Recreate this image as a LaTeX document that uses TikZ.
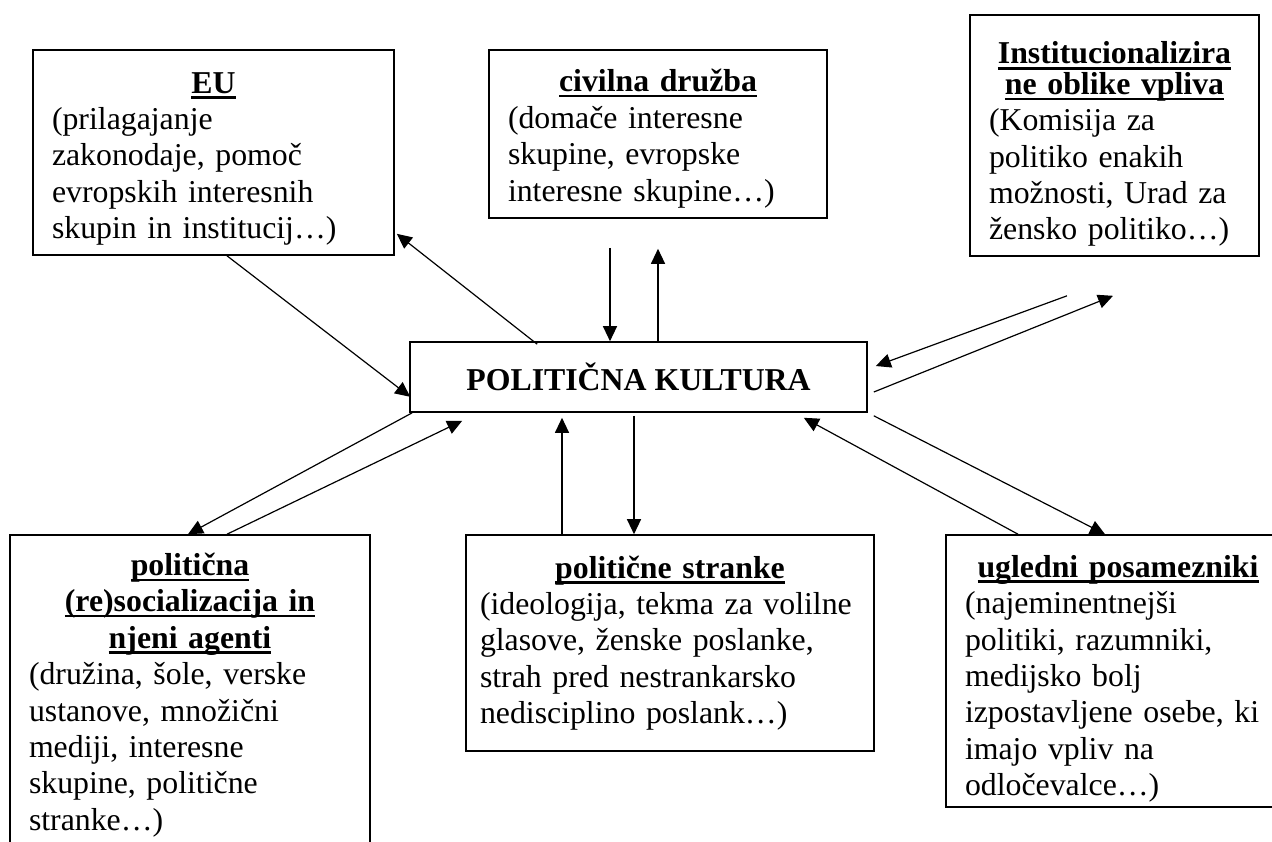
\documentclass[tikz,border=0pt]{standalone}
\usepackage{fontspec}
\setmainfont{Liberation Serif}
\usetikzlibrary{arrows.meta}

\hyphenpenalty=10000
\newlength{\ulwd}
\newcommand{\ulined}[1]{\leavevmode\settowidth{\ulwd}{#1}\rlap{\rule[-2.8pt]{\ulwd}{1.2pt}}#1}
\newcommand{\boxtitle}[2][0pt]{{\centering\bfseries\rule{0pt}{\dimexpr10.8pt+#1\relax}#2\par}}

\begin{document}
\begin{tikzpicture}[x=0.5pt, y=-0.5pt, line width=0.6pt,
  font=\fontsize{15.9pt}{18.2pt}\selectfont,
  box/.style={draw, rectangle, line width=0.8pt, inner xsep=9.5pt, inner ysep=1pt, align=left},
  arr/.style={-{Triangle[length=7.5pt,width=7pt]}}]
  \useasboundingbox (0,0) rectangle (1272,841);
  \clip (0,0) rectangle (1272,841);

  % upper row
  \node[box, minimum width=180.5pt, minimum height=102.5pt, text width=161.5pt] (eu) at (213.5,152.5)
  {\boxtitle[6pt]{\ulined{EU}}
   (prilagajanje\\
   zakonodaje, pomoč\\
   evropskih interesnih\\
   skupin in institucij…)};

  \node[box, minimum width=169pt, minimum height=84pt, text width=150pt] (civ) at (658,134)
  {\boxtitle[5pt]{\ulined{civilna družba}}
   (domače interesne\\
   skupine, evropske\\
   interesne skupine…)};

  \node[box, minimum width=144.5pt, minimum height=120.5pt, text width=125.5pt] (inst) at (1114.5,135.5)
  {\boxtitle[9pt]{\ulined{Institucionalizira}\\[-3pt] \ulined{ne oblike vpliva}}
   (Komisija za\\
   politiko enakih\\
   možnosti, Urad za\\
   žensko politiko…)};

  % centre
  \node[box, minimum width=228.5pt, minimum height=35pt, font=\fontsize{15.9pt}{18.2pt}\selectfont\bfseries] (pk) at (638.5,377)
  {POLITIČNA KULTURA};

  % lower row
  \node[box, minimum width=180pt, minimum height=160pt, text width=161pt] (soc) at (190,695)
  {\boxtitle{\ulined{politična}\\ \ulined{(re)socializacija in}\\ \ulined{njeni agenti}}
   (družina, šole, verske\\
   ustanove, množični\\
   mediji, interesne\\
   skupine, politične\\
   stranke…)};

  \node[box, inner xsep=7pt, minimum width=204pt, minimum height=108pt, text width=190pt] (str) at (670,643)
  {\boxtitle{\ulined{politične stranke}}
   (ideologija, tekma za volilne\\
   glasove, ženske poslanke,\\
   strah pred nestrankarsko\\
   nedisciplino poslank…)};

  \node[box, minimum width=172pt, minimum height=136pt, text width=153pt] (ugl) at (1118,671)
  {\boxtitle[8pt]{\ulined{ugledni posamezniki}}
   (najeminentnejši\\
   politiki, razumniki,\\
   medijsko bolj\\
   izpostavljene osebe, ki\\
   imajo vpliv na\\
   odločevalce…)};

  % arrows
  \draw[arr] ([shift={(13.5,0)}]eu.south) -- ([shift={(1,-16)}]pk.south west);
  \draw[arr] ([shift={(128,3)}]pk.north west) -- ([shift={(2,-22)}]eu.south east);
  \draw[arr] ([shift={(-48,29)}]civ.south) -- ([shift={(-28.5,0)}]pk.north);
  \draw[arr] ([shift={(19.5,1)}]pk.north) -- ([shift={(0,30)}]civ.south);
  \draw[arr] ([shift={(-47.5,39)}]inst.south) -- ([shift={(8,-11)}]pk.east);
  \draw[arr] ([shift={(6,15)}]pk.east) -- ([shift={(-1.5,39)}]inst.south);
  \draw[arr] ([shift={(6,3)}]pk.south east) -- ([shift={(-13,0)}]ugl.north);
  \draw[arr] ([shift={(-100,0)}]ugl.north) -- ([shift={(-64,5)}]pk.south east);
  \draw[arr] ([shift={(-108,0)}]str.north) -- ([shift={(-76.5,5)}]pk.south);
  \draw[arr] ([shift={(-4.5,3)}]pk.south) -- ([shift={(-36,0)}]str.north);
  \draw[arr] ([shift={(3,0)}]pk.south west) -- ([shift={(-2,0)}]soc.north);
  \draw[arr] ([shift={(37,0)}]soc.north) -- ([shift={(53,8)}]pk.south west);
\end{tikzpicture}
\end{document}
